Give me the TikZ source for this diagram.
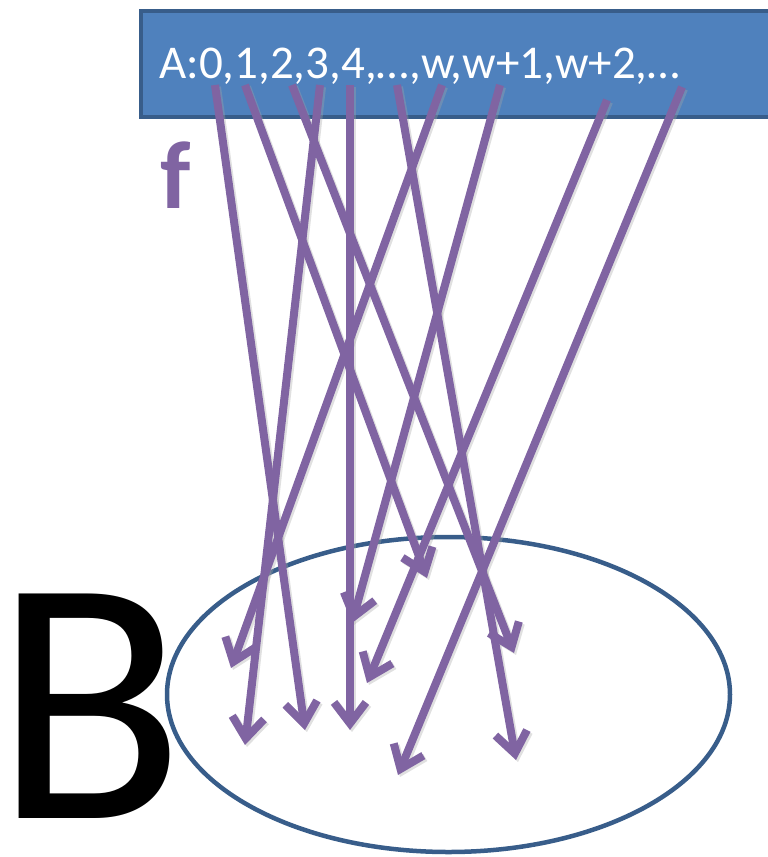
\documentclass[tikz,border=0pt]{standalone}
\usepackage{fontspec}
\setmainfont{Carlito}
\usetikzlibrary{arrows.meta,shapes.geometric}
\definecolor{boxblue}{HTML}{4F81BD}
\definecolor{boxedge}{HTML}{385D8A}
\definecolor{mapviolet}{HTML}{8064A2}
\begin{document}
\begin{tikzpicture}[x=1pt,y=-1pt,
  setbox/.style={draw=boxedge,fill=boxblue,line width=4pt,inner sep=0pt,anchor=north west},
  codomain/.style={draw=boxedge,line width=4.5pt,ellipse,inner sep=0pt},
  mapsto/.style={draw=mapviolet,line width=8pt,
    -{Straight Barb[length=21pt,width=32pt]}},
  mapshadow/.style={draw=black!35,opacity=0.35,line width=8pt,
    -{Straight Barb[length=21pt,width=32pt]},transform canvas={shift={(2pt,-2pt)}}}]
\useasboundingbox (0,0) rectangle (768,857);

% the set A as a long bar running off the right edge
\begin{scope}
  \clip (0,0) rectangle (768,857);
  \node (Abox) [setbox,minimum width=660pt,minimum height=106pt] at (139,9) {};
\end{scope}
\node (Alabel) [anchor=base west,inner sep=0pt,text=white,
  font=\fontsize{47}{47}\selectfont] at (159,78) {A:0,1,2,3,4,…,w,w+1,w+2,…};

% the map name and the set B
\node (fname) [anchor=base west,inner sep=0pt,text=mapviolet,
  font=\bfseries\fontsize{96}{96}\selectfont] at (160,208) {f};
\node (Bname) [anchor=base west,inner sep=0pt,
  font=\fontsize{350}{350}\selectfont] at (-6,818) {B};
\node (Bset) [codomain,minimum width=563pt,minimum height=315pt] at (448.5,694.5) {};

% elements of A
\coordinate (a0)  at (215,85);
\coordinate (a1)  at (245,85);
\coordinate (a2)  at (292,85);
\coordinate (a3)  at (320,85);
\coordinate (a4)  at (350,85);
\coordinate (ad)  at (397,85);
\coordinate (aw)  at (442,85);
\coordinate (aw1) at (500,85);
\coordinate (aw2) at (607,100);
\coordinate (ae)  at (682,87);

% their images in B
\coordinate (b0)  at (305,730);
\coordinate (b1)  at (427,578);
\coordinate (b2)  at (514,653);
\coordinate (b3)  at (245,745);
\coordinate (b4)  at (350,730);
\coordinate (bd)  at (516,760);
\coordinate (bw)  at (231,668);
\coordinate (bw1) at (352,623);
\coordinate (bw2) at (367,683);
\coordinate (be)  at (398,775);

\foreach \s/\t in {a0/b0,a1/b1,a2/b2,a3/b3,a4/b4,ad/bd,aw/bw,aw1/bw1,aw2/bw2,ae/be}
  \draw[mapshadow] (\s) -- (\t);
\foreach \s/\t in {a0/b0,a1/b1,a2/b2,a3/b3,a4/b4,ad/bd,aw/bw,aw1/bw1,aw2/bw2,ae/be}
  \draw[mapsto] (\s) -- (\t);
\end{tikzpicture}
\end{document}
